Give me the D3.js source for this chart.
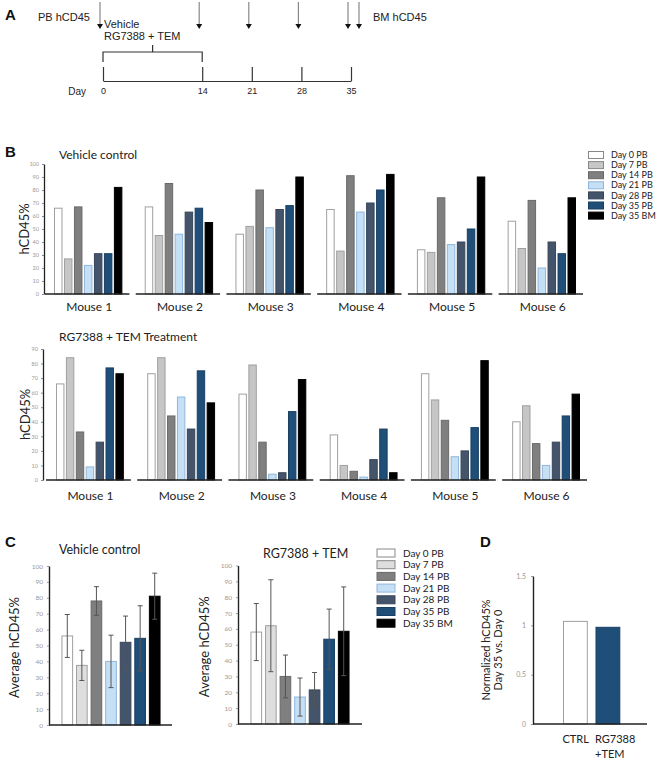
<!DOCTYPE html>
<html><head><meta charset="utf-8">
<script src="https://cdn.jsdelivr.net/npm/d3@7"></script>
<style>body{margin:0;background:#fff} svg{display:block}</style>
</head><body>
<svg id="c" width="659" height="762"></svg>
<script>
// ---------- DATA ----------
const timelineDays = [0, 14, 21, 28, 35];
const treatmentWindow = [0, 14];
const mice = ["Mouse 1", "Mouse 2", "Mouse 3", "Mouse 4", "Mouse 5", "Mouse 6"];
const series = ["Day 0 PB", "Day 7 PB", "Day 14 PB", "Day 21 PB", "Day 28 PB", "Day 35 PB", "Day 35 BM"];
const vehicleValues = [
  [66, 27, 67, 22, 31, 31, 82],
  [67, 45, 85, 46, 63, 66, 55],
  [46, 52, 80, 51, 65, 68, 90],
  [65, 33, 91, 63, 70, 80, 92],
  [34, 32, 74, 38, 40, 50, 90],
  [56, 35, 72, 20, 40, 31, 74]
];
const treatValues = [
  [66, 84, 33, 9, 26, 77, 73],
  [73, 84, 44, 57, 35, 75, 53],
  [59, 79, 26, 4, 5, 47, 69],
  [31, 10, 6, 2, 14, 35, 5],
  [73, 55, 41, 16, 20, 36, 82],
  [40, 51, 25, 10, 26, 44, 59]
];
const vehicleTicks = [0, 10, 20, 30, 40, 50, 60, 70, 80, 90, 100];
const treatTicks = [0, 10, 20, 30, 40, 50, 60, 70, 80, 90];
const vehicleMean = [56, 37.5, 78, 40, 52, 54.5, 81];
const vehicleErr = [13.5, 9.5, 9, 16.5, 16.5, 20.5, 14.5];
const treatMean = [58, 62, 30, 17, 21.5, 53.5, 58.5];
const treatErr = [18, 29, 13.5, 12, 11, 19, 28];
const avgTicks = [0, 10, 20, 30, 40, 50, 60, 70, 80, 90, 100];
const normGroups = ["CTRL", "RG7388 +TEM"];
const normValues = [1.04, 0.98];
const normTicks = [0, 0.5, 1, 1.5];

// ---------- STYLE ----------
const fillsB = ["#ffffff", "#c6c6c6", "#7f7f7f", "#c5e0f5", "#44546a", "#1f4e79", "#000000"];
const fillsC = ["#ffffff", "#dedede", "#7f7f7f", "#c5e0f5", "#44546a", "#1f4e79", "#000000"];
const strokes = ["#a0a0a0", "#a0a0a0", "#6a6a6a", "#8fb6dc", "#384658", "#183f63", "#000000"];
const F = "Lato, 'Open Sans', sans-serif";
const AR = "'Liberation Sans', Arial, sans-serif";

const svg = d3.select("#c");

// Panel letters
[["A", 5, 20], ["B", 5, 157], ["C", 5, 547], ["D", 480, 547]].forEach(([t, x, y]) =>
  svg.append("text").attr("x", x).attr("y", y).text(t)
    .attr("font-family", AR).attr("font-weight", "bold").attr("font-size", 15).attr("fill", "#111"));

// ---------- PANEL A ----------
const dayX = d3.scaleLinear().domain([0, 35]).range([103, 351]);
const gA = svg.append("g");
gA.append("g").attr("transform", "translate(0,81)")
  .call(d3.axisBottom(dayX).tickValues(timelineDays).tickSize(-14).tickSizeOuter(0).tickPadding(7))
  .call(g => {
    g.select(".domain").attr("stroke", "#333").attr("stroke-width", 1.2);
    g.selectAll(".tick line").attr("stroke", "#333").attr("stroke-width", 1.2);
    g.selectAll("text").attr("font-family", AR).attr("font-size", 9).attr("fill", "#222");
  });
gA.append("text").attr("x", 86).attr("y", 95).attr("text-anchor", "end").text("Day")
  .attr("font-family", AR).attr("font-size", 10).attr("fill", "#222");
// brace
const bx0 = dayX(treatmentWindow[0]), bx1 = dayX(treatmentWindow[1]), bxm = (bx0 + bx1) / 2;
gA.append("path")
  .attr("d", `M${bx0},62V52H${bx1}V62M${bxm},52V45`)
  .attr("fill", "none").attr("stroke", "#333").attr("stroke-width", 1.2);
// arrows
const arrowXs = timelineDays.map(d => dayX(d) - 3).concat([dayX(35) + 8]);
arrowXs.forEach(x => {
  gA.append("line").attr("x1", x).attr("x2", x).attr("y1", 2).attr("y2", 25)
    .attr("stroke", "#888").attr("stroke-width", 1.2);
  gA.append("path").attr("d", `M${x - 3},24L${x + 3},24L${x},29Z`).attr("fill", "#111");
});
gA.append("text").attr("x", 90).attr("y", 21).attr("text-anchor", "end").text("PB hCD45")
  .attr("font-family", AR).attr("font-size", 11).attr("fill", "#222");
gA.append("text").attr("x", 373).attr("y", 21).text("BM hCD45")
  .attr("font-family", AR).attr("font-size", 11).attr("fill", "#222");
gA.append("text").attr("x", 104).attr("y", 28).text("Vehicle")
  .attr("font-family", AR).attr("font-size", 11).attr("fill", "#222");
gA.append("text").attr("x", 104).attr("y", 40).text("RG7388 + TEM")
  .attr("font-family", AR).attr("font-size", 11).attr("fill", "#222");

// ---------- PANEL B ----------
function drawRow(values, ticks, opt) {
  const g = svg.append("g");
  const y = d3.scaleLinear().domain([0, d3.max(ticks)]).range([opt.y0, opt.y1]);
  g.append("g").attr("transform", `translate(${opt.axisX},0)`)
    .call(d3.axisLeft(y).tickValues(ticks).tickSize(2).tickSizeOuter(0).tickPadding(3))
    .call(a => {
      a.select(".domain").attr("stroke", "#222").attr("stroke-width", 1.3);
      a.selectAll(".tick line").attr("stroke", "#888");
      a.selectAll("text").attr("font-family", F).attr("font-size", 5.5).attr("fill", "#999");
    });
  const gx = d3.scaleBand().domain(mice).range([opt.xs, opt.xe]).paddingInner(0.07).paddingOuter(0);
  mice.forEach((m, i) => {
    const x0 = gx(m), bw = gx.bandwidth();
    const bx = d3.scaleBand().domain(series).range([x0 + opt.padL, x0 + bw - opt.padR]).paddingInner(0.15).paddingOuter(0);
    g.selectAll(null).data(values[i]).join("rect")
      .attr("x", (d, j) => bx(series[j]) + 0.5)
      .attr("width", bx.bandwidth() - 1)
      .attr("y", d => y(d))
      .attr("height", d => y(0) - y(d))
      .attr("fill", (d, j) => fillsB[j])
      .attr("stroke", (d, j) => strokes[j]).attr("stroke-width", 1);
    g.append("line").attr("x1", x0).attr("x2", x0 + bw).attr("y1", y(0)).attr("y2", y(0))
      .attr("stroke", "#222").attr("stroke-width", 1.4);
    g.append("text").attr("x", x0 + bw / 2 + 2).attr("y", opt.labelY).attr("text-anchor", "middle")
      .text(m).attr("font-family", F).attr("font-size", 12).attr("fill", "#222");
  });
  g.append("text").attr("x", 59).attr("y", opt.titleY).text(opt.title)
    .attr("font-family", F).attr("font-size", 12).attr("fill", "#222");
  g.append("text").attr("transform", `translate(${opt.ylabX},${(opt.y0 + opt.y1) / 2}) rotate(-90)`)
    .attr("text-anchor", "middle").attr("dy", "0.35em").text("hCD45%")
    .attr("font-family", F).attr("font-size", 13).attr("fill", "#222");
}
drawRow(vehicleValues, vehicleTicks, { y0: 294, y1: 164, axisX: 44, xs: 45, xe: 583, padL: 9, padR: 7,
  labelY: 311, titleY: 159, title: "Vehicle control", ylabX: 24 });
drawRow(treatValues, treatTicks, { y0: 480, y1: 349, axisX: 43, xs: 46, xe: 587, padL: 10, padR: 7,
  labelY: 500, titleY: 341, title: "RG7388 + TEM Treatment", ylabX: 25 });

// legend B
function legend(x, y0, step, bw, bh, fs, fills, tx) {
  const g = svg.append("g");
  series.forEach((s, i) => {
    const cy = y0 + i * step;
    g.append("rect").attr("x", x).attr("y", cy - bh / 2).attr("width", bw).attr("height", bh)
      .attr("fill", fills[i]).attr("stroke", i === 0 || i === 1 ? "#888" : strokes[i]).attr("stroke-width", 1);
    g.append("text").attr("x", tx).attr("y", cy).attr("dy", "0.35em").text(s)
      .attr("font-family", F).attr("font-size", fs).attr("fill", "#222");
  });
}
legend(588.5, 155, 10.1, 15, 7, 9, fillsB, 611);

// ---------- PANEL C ----------
function drawAvg(means, errs, opt) {
  const g = svg.append("g");
  const y = d3.scaleLinear().domain([0, 100]).range([opt.y0, opt.y1]);
  const x = d3.scaleBand().domain(series).range([opt.xs, opt.xe]).paddingInner(0.2).paddingOuter(0.1);
  g.append("g").attr("transform", `translate(${opt.axisX},0)`)
    .call(d3.axisLeft(y).tickValues(avgTicks).tickSize(2).tickSizeOuter(0).tickPadding(4))
    .call(a => {
      a.select(".domain").attr("stroke", "#222").attr("stroke-width", 1.4);
      a.selectAll(".tick line").attr("stroke", "#999");
      a.selectAll("text").attr("font-family", F).attr("font-size", 6.5).attr("fill", "#999");
    });
  g.selectAll(null).data(means).join("rect")
    .attr("x", (d, i) => x(series[i]) + 0.5).attr("width", x.bandwidth() - 1)
    .attr("y", d => y(d)).attr("height", d => y(0) - y(d))
    .attr("fill", (d, i) => fillsC[i]).attr("stroke", (d, i) => strokes[i]).attr("stroke-width", 1);
  means.forEach((m, i) => {
    const cx = x(series[i]) + x.bandwidth() / 2;
    const t = y(m + errs[i]), b = y(m - errs[i]);
    g.append("path").attr("d", `M${cx},${t}V${b}M${cx - 2.5},${t}H${cx + 2.5}M${cx - 2.5},${b}H${cx + 2.5}`)
      .attr("stroke", "#555").attr("stroke-width", 1).attr("fill", "none");
  });
  g.append("line").attr("x1", opt.axisX).attr("x2", opt.baseEnd).attr("y1", y(0)).attr("y2", y(0))
    .attr("stroke", "#222").attr("stroke-width", 1.4);
  g.append("text").attr("x", opt.titleX).attr("y", opt.titleY).text(opt.title)
    .attr("font-family", F).attr("font-size", 12.5).attr("fill", "#222");
  g.append("text").attr("transform", `translate(${opt.ylabX},${(opt.y0 + opt.y1) / 2 + 2}) rotate(-90)`)
    .attr("text-anchor", "middle").attr("dy", "0.35em").text("Average hCD45%")
    .attr("font-family", F).attr("font-size", 13).attr("fill", "#222");
}
drawAvg(vehicleMean, vehicleErr, { y0: 725, y1: 566, axisX: 49, xs: 60, xe: 162, baseEnd: 172,
  title: "Vehicle control", titleX: 59, titleY: 554, ylabX: 14 });
drawAvg(treatMean, treatErr, { y0: 724, y1: 565.5, axisX: 238, xs: 249, xe: 351, baseEnd: 362,
  title: "RG7388 + TEM", titleX: 263, titleY: 558, ylabX: 204 });
legend(377, 553, 11.7, 18, 8, 10, fillsC, 403);

// ---------- PANEL D ----------
const gD = svg.append("g");
const yD = d3.scaleLinear().domain([0, 1.5]).range([724, 576]);
const xD = d3.scaleBand().domain(normGroups).range([559.75, 623.55]).paddingInner(0.237).paddingOuter(0.1);
gD.append("g").attr("transform", "translate(533,0)")
  .call(d3.axisLeft(yD).tickValues(normTicks).tickFormat(d3.format("")).tickSize(2).tickSizeOuter(0).tickPadding(5))
  .call(a => {
    a.select(".domain").attr("stroke", "#222").attr("stroke-width", 1.4);
    a.selectAll(".tick line").attr("stroke", "#999");
    a.selectAll("text").attr("font-family", F).attr("font-size", 7).attr("fill", "#999");
  });
gD.selectAll(null).data(normValues).join("rect")
  .attr("x", (d, i) => xD(normGroups[i]) + 0.5).attr("width", xD.bandwidth() - 1)
  .attr("y", d => yD(d)).attr("height", d => yD(0) - yD(d))
  .attr("fill", (d, i) => i === 0 ? "#ffffff" : "#1f4e79")
  .attr("stroke", (d, i) => i === 0 ? "#a0a0a0" : "#183f63");
gD.append("line").attr("x1", 533).attr("x2", 647).attr("y1", yD(0)).attr("y2", yD(0))
  .attr("stroke", "#222").attr("stroke-width", 1.4);
normGroups.forEach(gname => {
  const lines = gname.split(" ");
  const t = gD.append("text").attr("x", xD(gname) - 0.5).attr("y", 743)
    .attr("font-family", F).attr("font-size", 11).attr("fill", "#222");
  lines.forEach((l, k) => t.append("tspan").attr("x", xD(gname) - 0.5).attr("dy", k ? 15 : 0).text(l));
});
const tD = gD.append("text").attr("transform", "translate(492,650) rotate(-90)")
  .attr("text-anchor", "middle").attr("font-family", F).attr("font-size", 11).attr("fill", "#222");
tD.append("tspan").attr("x", 0).attr("dy", "-0.15em").text("Normalized hCD45%");
tD.append("tspan").attr("x", 0).attr("dy", "1.1em").text("Day 35 vs. Day 0");
</script>
</body></html>
